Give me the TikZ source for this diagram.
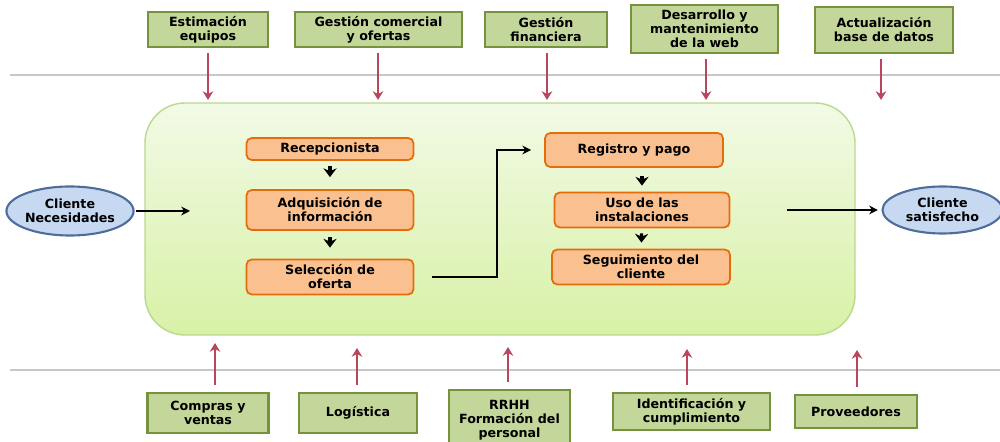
\documentclass[tikz,border=0pt]{standalone}
\usepackage{xcolor}
\usepackage{fontspec}
\setmainfont{DejaVu Sans}
\usetikzlibrary{arrows.meta,shapes.geometric}

\definecolor{areafill}{HTML}{C4D79B}
\definecolor{areaedge}{HTML}{76923C}
\definecolor{stepfill}{HTML}{FAC08F}
\definecolor{stepedge}{HTML}{E46C0A}
\definecolor{clientfill}{HTML}{C6D9F1}
\definecolor{clientedge}{HTML}{4F6D9A}
\definecolor{supportred}{HTML}{B9475C}
\definecolor{procedge}{HTML}{B9D98E}
\definecolor{proctop}{HTML}{F2FAE6}
\definecolor{procbottom}{HTML}{D8F1A6}

\begin{document}
\begin{tikzpicture}[thick,
    font=\bfseries\fontsize{7.2}{8}\selectfont,
    area/.style={draw=areaedge, fill=areafill, line width=1.4pt,
      inner sep=1pt, align=center, minimum height=0.7cm},
    stepbox/.style={draw=stepedge, fill=stepfill, line width=1pt,
      rounded corners=3pt, inner sep=1pt, align=center},
    client/.style={ellipse, draw=clientedge, fill=clientfill,
      line width=1.2pt, inner sep=0pt, align=center},
    support/.style={supportred, line width=1.3pt,
      -{Stealth[length=5pt,width=6pt]}},
    flow/.style={black, line width=1pt, -{Stealth[length=5pt,width=5pt]}},
    stub/.style={black, line width=1.8pt, -{Stealth[length=5pt,width=7.5pt]}}]

          \useasboundingbox (0,0) rectangle (20,8.84);

          % guide lines
          \draw[black!22, line width=0.6pt] (0.2,7.34) -- (20,7.34);
          \draw[black!22, line width=0.6pt] (0.2,1.44) -- (20,1.44);

          % process area
          \node[draw=procedge, line width=0.8pt, rounded corners=0.8cm,
            top color=proctop, bottom color=procbottom,
            minimum width=14.2cm, minimum height=4.64cm] (proc) at (10,4.46) {};

          % clients
          \node[client, minimum width=2.5cm, minimum height=0.98cm] (need) at (1.4,4.62) {Cliente\\Necesidades};
          \node[client, minimum width=2.4cm, minimum height=0.94cm] (sat) at (18.85,4.64) {Cliente\\satisfecho};

          % steps
          \node[stepbox, minimum width=3.34cm, minimum height=0.44cm] (rec) at (6.6,5.86) {Recepcionista};
          \node[stepbox, minimum width=3.34cm, minimum height=0.8cm] (adq) at (6.6,4.64) {Adquisición de\\información};
          \node[stepbox, minimum width=3.34cm, minimum height=0.7cm] (sel) at (6.6,3.3) {Selección de\\oferta};
          \node[stepbox, minimum width=3.56cm, minimum height=0.68cm] (reg) at (12.68,5.84) {Registro y pago};
          \node[stepbox, minimum width=3.5cm, minimum height=0.7cm] (uso) at (12.84,4.64) {Uso de las\\instalaciones};
          \node[stepbox, minimum width=3.56cm, minimum height=0.7cm] (seg) at (12.82,3.5) {Seguimiento del\\cliente};

          % top support areas
          \node[area, minimum width=2.4cm] (est) at (4.16,8.25) {Estimación\\equipos};
          \node[area, minimum width=3.34cm] (gcom) at (7.57,8.25) {Gestión comercial\\y ofertas};
          \node[area, minimum width=2.44cm] (gfin) at (10.92,8.25) {Gestión\\financiera};
          \node[area, minimum width=2.94cm, minimum height=0.96cm] (web) at (14.09,8.26) {Desarrollo y\\mantenimiento\\de la web};
          \node[area, minimum width=2.76cm, minimum height=0.92cm] (act) at (17.68,8.24) {Actualización\\base de datos};

          % bottom support areas
          \node[area, minimum width=2.42cm, minimum height=0.8cm] (com) at (4.16,0.58) {Compras y\\ventas};
          \node[area, minimum width=2.36cm, minimum height=0.8cm] (log) at (7.16,0.58) {Logística};
          \node[area, minimum width=2.42cm, minimum height=1.2cm] (rrhh) at (10.19,0.44) {RRHH\\Formación del\\personal};
          \node[area, minimum width=3.14cm, minimum height=0.74cm] (ide) at (13.83,0.61) {Identificación y\\cumplimiento};
          \node[area, minimum width=2.44cm, minimum height=0.66cm] (pro) at (17.12,0.61) {Proveedores};

          \coordinate (est-in) at (4.16,6.84);
          \coordinate (gcom-in) at (7.56,6.84);
          \coordinate (gfin-in) at (10.94,6.84);
          \coordinate (web-in) at (14.12,6.84);
          \coordinate (act-in) at (17.62,6.84);
          \coordinate (com-in) at (4.3,1.98);
          \coordinate (log-in) at (7.14,1.88);
          \coordinate (rrhh-in) at (10.16,1.9);
          \coordinate (ide-in) at (13.74,1.86);
          \coordinate (pro-in) at (17.14,1.84);

          \foreach \a in {est,gcom,gfin,web,act}
            \draw[support, shorten <=3pt] (\a.south -| \a-in) -- (\a-in);
          \foreach \a in {com,log,rrhh,ide,pro}
            \draw[support, shorten <=4pt] (\a.north -| \a-in) -- (\a-in);

          % main flow
          \coordinate (enter) at (3.8,4.62);
          \coordinate (bend) at (9.94,3.3);
          \coordinate (leave) at (15.74,4.64);

          \draw[flow, shorten <=1pt] (need) -- (enter);
          \draw[flow, shorten <=0.35cm, shorten >=0.26cm] (sel.east) -- (bend) |- (reg.west);
          \draw[flow, shorten >=2pt] (leave) -- (sat);

          \draw[stub, shorten <=0.1cm, shorten >=0.24cm] (rec) -- (adq);
          \draw[stub, shorten <=0.12cm, shorten >=0.22cm] (adq) -- (sel);
          \draw[stub, shorten <=0.16cm, shorten >=0.12cm] (reg.south -| uso.north) -- (uso.north);
          \draw[stub, shorten <=0.1cm, shorten >=0.12cm] (uso) -- (seg);

          \end{tikzpicture}
\end{document}
